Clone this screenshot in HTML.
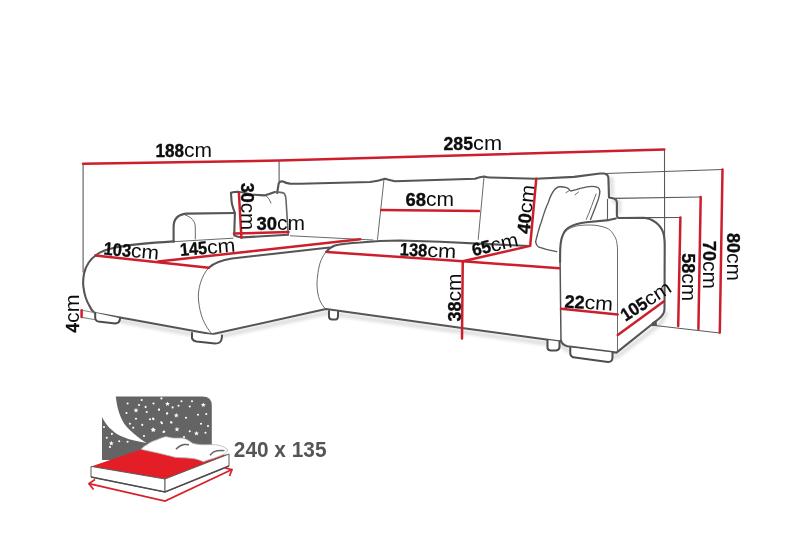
<!DOCTYPE html>
<html><head><meta charset="utf-8"><style>
html,body{margin:0;padding:0;background:#fff;}
svg{display:block;will-change:transform;}
text{font-family:"Liberation Sans",sans-serif;fill:#0d0d0d;}
.b{font-weight:bold;stroke:#0d0d0d;stroke-width:0.35px;font-size:18px;}
.c{font-size:19.5px;}
</style></head><body>
<svg width="800" height="533" viewBox="0 0 800 533">
<rect width="800" height="533" fill="#fff"/>
<defs>
<linearGradient id="sh" x1="0" y1="0" x2="0" y2="1"><stop offset="0" stop-color="#000" stop-opacity="0.07"/><stop offset="1" stop-color="#000" stop-opacity="0"/></linearGradient>
<filter id="bl" x="-10%" y="-50%" width="120%" height="200%"><feGaussianBlur stdDeviation="1.8"/></filter>
</defs>
<!-- soft shadows under bottom edges -->
<g filter="url(#bl)" fill="none" stroke="#000" stroke-opacity="0.12" stroke-width="4.5"><path d="M100 317 L212 338 L326 313 L561 345.5 L567 350 L616.5 357 L660 324 L667 312"/><path d="M612 200 L619 202 L619 214"/><path d="M611 177 L612 196"/></g>
<path d="M652 322.5 L656.5 319.8 L657 325.8 L652 326.2 Z" fill="#555"/>
<g fill="none" stroke-linecap="round" stroke-linejoin="round">
<!-- thin dimension extension lines -->
<g stroke="#5a5a5a" stroke-width="1.1">
<path d="M83.1 163.75 L83.1 272"/>
<path d="M279.1 160.6 L279.1 181.3"/>
<path d="M664.5 149.5 L664.6 246"/>
<path d="M605.6 173.5 L722.5 169.5"/>
<path d="M615 198.4 L700.7 197"/>
<path d="M639.5 217.6 L680.4 217.5"/>
<path d="M655 325.5 L719.8 333"/>
<path d="M607.5 199.4 L607.5 220"/>
</g>
<!-- thin inner lines -->
<g stroke="#6a6a6a" stroke-width="1">
<path d="M185.6 215.1 C191 217, 195.3 221, 195.3 227 L195.3 239"/>
<path d="M384 179.5 L377.5 239.3"/>
<path d="M484 177 L478.2 239.4"/>
<path d="M290.5 235.8 L373 240"/>
<path d="M175 241.6 L233 238.2"/>
<path d="M265.75 195.4 Q270 199 271 203"/>
<path d="M208.75 267.75 C201 276, 197.5 290, 198.5 300 C200 315, 204 325, 212 334"/>
<path d="M326 252 C322 257, 320 262, 319 267 C317.5 275, 317 280, 317 285 C317.5 297, 320 303, 325.5 309"/>
<path d="M596.1 194 C593 202, 590 211, 586.25 219.4"/>
<path d="M565.9 192.7 L569.4 190.5 M575 194.8 L578.5 192"/>
<path d="M617.5 352 L617.5 250 C617.3 242, 616 238, 614.4 236.25 C612 231, 609 229, 606 227.8 C601 226, 595 225, 590.5 225 C583 225, 578 225.5, 575 226.4 C569 228, 565 231, 562.5 236"/>


<path d="M120 318.5 L119 322"/>
<path d="M561 340.6 L560.1 262" stroke="#555" stroke-width="1.5"/>
</g>
<g stroke="#595959" stroke-width="1.35">
<path d="M535.6 241.9 C537 236, 539 228, 541.25 222.2 C544 213, 546 207, 548.3 202.5 C550 197, 552 193, 553.9 190.5 C556 188, 557.5 186.8, 559.5 186.75 C562.5 186.7, 564.5 187, 566.6 187.7 C568.5 188.5, 569.5 190, 570.8 191 C573 190.5, 575 189.8, 577.8 189.1 C582 188, 587 186.3, 591.9 186.3 C595 186.3, 597.5 186.8, 598.9 188.4 C600 190, 600 192, 599.6 194 C599 198, 598 201, 596.1 205.3 C594 211, 592 216, 590.5 219.4"/>
<path d="M535.6 241.9 C536 244, 537 246, 538.4 246.8 C544 249, 550 250.5, 556.7 251.7"/>
</g>
<!-- main outlines -->
<g stroke="#555" stroke-width="2.1">
<!-- backrest + right armrest -->
<path d="M277.1 193 L278.75 183.25 Q280 180.8 283 181.5 Q286 183.4 290 183.6 L300 183.75 L370 182 Q378 181 385 178.75 Q389 180 395 181.25 L475 178.75 Q480 177 484 176.5 Q487 177.5 490 177.5 L536 178.75 L574 176.9 L600 173.5 L604 173.5 Q608.4 174.5 608.4 178 L609 197.5 L613 198.2 Q616.9 199 616.9 203 L616.9 214.4 Q616.8 217.8 619 218 L644 217.7 C652 218.5, 660 224, 663 232 C664.3 236, 664.7 240, 664.7 246 L664.5 309 C664.5 313.5, 662 316.5, 658 319.5 L616.5 352.6 L567.5 346.25 Q562 345, 561 340.6 M560.1 262 L560.1 255 C560.1 246, 560.8 240, 562.35 236.25 C564 231, 567 228, 570.8 226.4 C575 224, 580 223, 586.25 222.2 L608.76 220.1 L615.8 218.5"/>
<!-- left pillow -->
<path d="M288.1 234.8 L242.1 237.4 Q236 236.5 234.2 235.4 L234.9 213.1 C233 208, 231.6 204, 231.6 201.3 L230.9 192.7 Q234 191.8 238.1 191.8 C244 192.5, 248 194, 252.6 194.7 L264.4 195.4 C268 194.5, 271 193.5, 274.9 192.1"/>
<path d="M274.9 192.1 L277.6 192.1 C281 192.3, 283.5 192.8, 284.1 193.4 C285.5 195, 286 198, 286.1 201.3 L288.1 232.8 L288.1 234.8" stroke-width="1.6" stroke="#666"/>
<!-- chaise back + armrest bump -->
<path d="M173.6 241.8 L173.6 226.8 C173.6 219, 178 214.5, 186.3 213.6 L234.9 213"/>
<path d="M96.25 255 C103 249.5, 115 245, 173.9 241.4"/>
<!-- outer silhouette bottom -->
<path d="M96.25 255 C91 258.5, 86 265, 84 273.75 C83 279, 83 283, 83.3 286 C84 293, 86.5 301, 89.5 306 C91 309.5, 92.5 311.5, 94.7 313 L129.9 319.2 L212 334.3 L326 309 L462 328 L561 341.5"/>
<!-- chaise roll top + main seat front top -->
<path d="M208.75 267.75 C215 262, 222 260, 232 258.5 L329.5 247.5"/>
<path d="M326 252 C329 248.5, 332 246.5, 335 245.5 C343 243.5, 350 243, 360 242.5 C375 241, 390 240.5, 400 240.5 L440 241.8 L518 245.5 L529 246"/>
</g>
<!-- feet -->
<g stroke="#4d4d4d" stroke-width="2" fill="#fff">
<path d="M82 310.3 L95.2 312.7 M82 317.4 L95.2 319.7" stroke="#888" stroke-width="1.1"/>
<path d="M95.2 312.7 L95.2 318 Q95.5 320.8 98 321.4 L115.3 323.5 Q119 323.2 119.8 320 L120 318.3"/>
<path d="M192 333 L192 338 Q192.5 340.8 196.5 341.4 L215 343.6 Q221.2 343.4 221.6 339 L222 335.5"/>
<path d="M329 311 L329 317 Q329.5 319.4 332 319.4 L336 319.4 Q338 319 338 316 L338 311.8"/>
<path d="M547.5 340 L547.5 348 Q548 350.5 551 350.5 L556 350.5 Q559.5 350 559.5 347 L559.5 341.5"/>
<path d="M570.3 347.5 L570.3 354 Q571 357.2 575 357.6 L608 362 Q612.5 362.2 612.5 357 L612.5 352.5"/>
</g>
<!-- red dimension lines -->
<g stroke="#cc1f2b" stroke-width="2.5">
<path d="M83.1 163.75 L279.1 160.6 L664.3 149.5"/>
<path d="M95.3 255.4 L208.75 267.75"/>
<path d="M158.1 261.6 L360.25 239.25"/>
<path d="M238.9 193 L241.4 237.7"/>
<path d="M234 233.6 L288.5 232"/>
<path d="M381.25 210 L479 211"/>
<path d="M327.25 252 L462.75 261.3 L559.4 268.3"/>
<path d="M462.75 261.3 L462 338.5"/>
<path d="M462.75 261.3 L530.2 245.9 L536.25 178.75"/>
<path d="M561 308.75 L617.75 314.4"/>
<path d="M617.75 335 L664 301.25"/>
<path d="M680.4 217.5 L678.2 326"/>
<path d="M700.7 197 L698.4 329"/>
<path d="M722.5 169.5 L719.8 332.6"/>
<path d="M81.6 310.3 L81.6 316.9"/>
</g>
</g>
<!-- labels -->
<g>
<text transform="translate(155.5 157.2)"><tspan class="b" textLength="28.5" lengthAdjust="spacingAndGlyphs">188</tspan><tspan class="c" textLength="28" lengthAdjust="spacingAndGlyphs">cm</tspan></text>
<text transform="translate(443.5 149.8)"><tspan class="b" textLength="29.5" lengthAdjust="spacingAndGlyphs">285</tspan><tspan class="c" textLength="29" lengthAdjust="spacingAndGlyphs">cm</tspan></text>
<text transform="translate(405.5 206.2)"><tspan class="b" textLength="20.5" lengthAdjust="spacingAndGlyphs">68</tspan><tspan class="c" textLength="28" lengthAdjust="spacingAndGlyphs">cm</tspan></text>
<text transform="translate(256.5 229.8)"><tspan class="b" textLength="20.5" lengthAdjust="spacingAndGlyphs">30</tspan><tspan class="c" textLength="28" lengthAdjust="spacingAndGlyphs">cm</tspan></text>
<text transform="translate(103.2 254.6) rotate(5)"><tspan class="b" textLength="27.5" lengthAdjust="spacingAndGlyphs">103</tspan><tspan class="c" textLength="28" lengthAdjust="spacingAndGlyphs">cm</tspan></text>
<text transform="translate(180.5 256) rotate(-4.5)"><tspan class="b" textLength="27" lengthAdjust="spacingAndGlyphs">145</tspan><tspan class="c" textLength="28.5" lengthAdjust="spacingAndGlyphs">cm</tspan></text>
<text transform="translate(399.5 255.3) rotate(3)"><tspan class="b" textLength="27.5" lengthAdjust="spacingAndGlyphs">138</tspan><tspan class="c" textLength="29" lengthAdjust="spacingAndGlyphs">cm</tspan></text>
<text transform="translate(473.5 256.2) rotate(-13)"><tspan class="b" textLength="19" lengthAdjust="spacingAndGlyphs">65</tspan><tspan class="c" textLength="28" lengthAdjust="spacingAndGlyphs">cm</tspan></text>
<text transform="translate(564.2 307.4) rotate(4)"><tspan class="b" textLength="20" lengthAdjust="spacingAndGlyphs">22</tspan><tspan class="c" textLength="28.5" lengthAdjust="spacingAndGlyphs">cm</tspan></text>
<text transform="translate(625.5 321.8) rotate(-33)"><tspan class="b" textLength="28" lengthAdjust="spacingAndGlyphs">105</tspan><tspan class="c" textLength="28.5" lengthAdjust="spacingAndGlyphs">cm</tspan></text>
<text transform="translate(241.4 182.8) rotate(90)"><tspan class="b" textLength="20" lengthAdjust="spacingAndGlyphs">30</tspan><tspan class="c" textLength="27.5" lengthAdjust="spacingAndGlyphs">cm</tspan></text>
<text transform="translate(529.4 234.2) rotate(-84)"><tspan class="b" textLength="20.5" lengthAdjust="spacingAndGlyphs">40</tspan><tspan class="c" textLength="28.5" lengthAdjust="spacingAndGlyphs">cm</tspan></text>
<text transform="translate(460.5 321.5) rotate(-90)"><tspan class="b" textLength="20" lengthAdjust="spacingAndGlyphs">38</tspan><tspan class="c" textLength="28" lengthAdjust="spacingAndGlyphs">cm</tspan></text>
<text transform="translate(79.4 332.4) rotate(-90)"><tspan class="b" textLength="9.5" lengthAdjust="spacingAndGlyphs">4</tspan><tspan class="c" textLength="28.5" lengthAdjust="spacingAndGlyphs">cm</tspan></text>
<text transform="translate(681.5 253.3) rotate(90)"><tspan class="b" textLength="20" lengthAdjust="spacingAndGlyphs">58</tspan><tspan class="c" textLength="28" lengthAdjust="spacingAndGlyphs">cm</tspan></text>
<text transform="translate(703 240.9) rotate(90)"><tspan class="b" textLength="20" lengthAdjust="spacingAndGlyphs">70</tspan><tspan class="c" textLength="28" lengthAdjust="spacingAndGlyphs">cm</tspan></text>
<text transform="translate(726.6 233) rotate(90)"><tspan class="b" textLength="20" lengthAdjust="spacingAndGlyphs">80</tspan><tspan class="c" textLength="28" lengthAdjust="spacingAndGlyphs">cm</tspan></text>
</g>
<!-- bed icon -->
<g>
<path d="M115.8 396.5 L202.5 396.5 Q211.8 396.5 211.8 405.5 L211.8 460 L102 460 L102 417 C105 423, 109 428, 112 430 C118 436, 128 440, 146.75 442.9 C138 438, 129 430, 124.25 423.75 C120 417, 117 408, 115.8 396.5 Z" fill="#646464"/>
<g fill="#fff"><polygon points="167.50,401.40 168.14,403.12 169.97,403.20 168.54,404.34 169.03,406.10 167.50,405.09 165.97,406.10 166.46,404.34 165.03,403.20 166.86,403.12"/><polygon points="136.00,407.70 136.64,409.42 138.47,409.50 137.04,410.64 137.53,412.40 136.00,411.39 134.47,412.40 134.96,410.64 133.53,409.50 135.36,409.42"/><polygon points="153.50,427.40 154.14,429.12 155.97,429.20 154.54,430.34 155.03,432.10 153.50,431.09 151.97,432.10 152.46,430.34 151.03,429.20 152.86,429.12"/><polygon points="111.30,440.80 111.94,442.52 113.77,442.60 112.34,443.74 112.83,445.50 111.30,444.49 109.77,445.50 110.26,443.74 108.83,442.60 110.66,442.52"/><polygon points="203.30,402.40 203.94,404.12 205.77,404.20 204.34,405.34 204.83,407.10 203.30,406.09 201.77,407.10 202.26,405.34 200.83,404.20 202.66,404.12"/><polygon points="176.30,412.90 176.94,414.62 178.77,414.70 177.34,415.84 177.83,417.60 176.30,416.59 174.77,417.60 175.26,415.84 173.83,414.70 175.66,414.62"/><polygon points="177.00,426.70 177.64,428.42 179.47,428.50 178.04,429.64 178.53,431.40 177.00,430.39 175.47,431.40 175.96,429.64 174.53,428.50 176.36,428.42"/><polygon points="196.50,430.90 197.14,432.62 198.97,432.70 197.54,433.84 198.03,435.60 196.50,434.59 194.97,435.60 195.46,433.84 194.03,432.70 195.86,432.62"/><polygon points="153.00,427.10 153.64,428.82 155.47,428.90 154.04,430.04 154.53,431.80 153.00,430.79 151.47,431.80 151.96,430.04 150.53,428.90 152.36,428.82"/><circle cx="127.6" cy="403.5" r="1.05"/><circle cx="141.7" cy="400" r="1.05"/><circle cx="145.6" cy="406.9" r="1.05"/><circle cx="159" cy="409.7" r="1.05"/><circle cx="146.75" cy="412" r="1.05"/><circle cx="167" cy="413.6" r="1.05"/><circle cx="126.5" cy="413" r="1.05"/><circle cx="136" cy="418.7" r="1.05"/><circle cx="150" cy="419.25" r="1.05"/><circle cx="153.5" cy="419.25" r="1.05"/><circle cx="129.9" cy="423.75" r="1.05"/><circle cx="142.25" cy="424.9" r="1.05"/><circle cx="162" cy="423.2" r="1.05"/><circle cx="171.5" cy="422.6" r="1.05"/><circle cx="133.25" cy="427.7" r="1.05"/><circle cx="164.2" cy="431.6" r="1.05"/><circle cx="111.9" cy="433.9" r="1.05"/><circle cx="106.8" cy="437.8" r="1.05"/><circle cx="127.6" cy="441.75" r="1.05"/><circle cx="119.2" cy="441.2" r="1.05"/><circle cx="153.5" cy="403.5" r="1.05"/><circle cx="161.4" cy="398.4" r="1.05"/><circle cx="172.6" cy="407.4" r="1.05"/><circle cx="192" cy="401.25" r="1.05"/><circle cx="189.75" cy="406.5" r="1.05"/><circle cx="178.5" cy="405.75" r="1.05"/><circle cx="159" cy="409.5" r="1.05"/><circle cx="167.25" cy="413.25" r="1.05"/><circle cx="198" cy="414.75" r="1.05"/><circle cx="206.25" cy="414" r="1.05"/><circle cx="186" cy="417.75" r="1.05"/><circle cx="161.25" cy="422.25" r="1.05"/><circle cx="171" cy="422.25" r="1.05"/><circle cx="201" cy="423.75" r="1.05"/><circle cx="163.5" cy="432" r="1.05"/><circle cx="189.75" cy="431.25" r="1.05"/><circle cx="205.5" cy="432.75" r="1.05"/><circle cx="181.5" cy="401.25" r="1.05"/><circle cx="153" cy="418.5" r="1.05"/><circle cx="104" cy="427" r="1.05"/><circle cx="124" cy="434" r="1.05"/><circle cx="118" cy="428" r="1.05"/><circle cx="144" cy="436" r="1.05"/><circle cx="208" cy="426" r="1.05"/><circle cx="184" cy="437" r="1.05"/><circle cx="139" cy="405" r="1.05"/><circle cx="110" cy="447" r="1.05"/></g>
<path d="M91 466.4 L141 449.5 L229 455 L165 479 Z" fill="#e41e26"/>
<path d="M91 466.4 L165 479 L165 492 L91 477 Z" fill="#fff" stroke="#5a5a5a" stroke-width="1"/>
<path d="M165 479 L229 454 L229 466 L165 492 Z" fill="#fff" stroke="#5a5a5a" stroke-width="1"/>
<path d="M91 477 L165 492 L229 466" fill="none" stroke="#4d4d4d" stroke-width="1.6"/>
<path d="M141.2 449.3 C143 447, 145 445.5, 147 444.7 C150 442.5, 153 441, 156.2 440.1 C159 439, 161 437.8, 162.8 437.5 C164.5 436.7, 165.5 436.6, 166.7 436.8 C169 437.2, 171 438, 173.3 438.1 L182.5 438.1 C185 438.6, 187 439.5, 189 440.75 C190.5 441.7, 191.5 442.8, 193 443.4 C197 444.3, 200 444.6, 203.5 444.7 L215.3 444.7 C219 445.3, 222 446, 224.5 447.3 C226 448, 227.2 449, 227.8 450 C227 451.5, 226 452.8, 224.5 453.9 C221 455.5, 218 456.8, 215.3 457.8 C213 458.6, 211 459.2, 208.7 459.8 C206.5 460.5, 205 461.2, 203.5 461.7 C200 460.3, 196.5 459, 193 458.5 C189 458, 186 457.9, 182.5 457.8 C179.5 457.6, 177 457.5, 174.6 457.2 C172.7 456.7, 171 456.2, 169.4 455.8 C166 455, 162 454, 158.9 453.2 C155.5 452.5, 152.5 451.8, 149.7 451.2 C146.5 450.5, 143.5 449.9, 141.2 449.3 Z" fill="#fff" stroke="#b5b5b5" stroke-width="0.8"/>
<path d="M175.9 449.3 Q180 445 184 444.5 Q187 444.4 189 444.7 M210 455.2 Q213 451.5 217 450.8 Q221 450.4 224.5 450.6" fill="none" stroke="#666" stroke-width="1.4"/>
<path d="M89 483.6 L165 501 L232 469.6" fill="none" stroke="#d9202a" stroke-width="1.7"/>
<path d="M95 479.5 L89 483.6 L93.5 489.5 M225 468 L232 469.6 L229.5 476" fill="none" stroke="#d9202a" stroke-width="1.7"/>
<text x="233.8" y="457.2" font-size="21.5" font-weight="bold" style="fill:#555" textLength="92.7" lengthAdjust="spacingAndGlyphs">240 x 135</text>
</g>
</svg>
</body></html>
